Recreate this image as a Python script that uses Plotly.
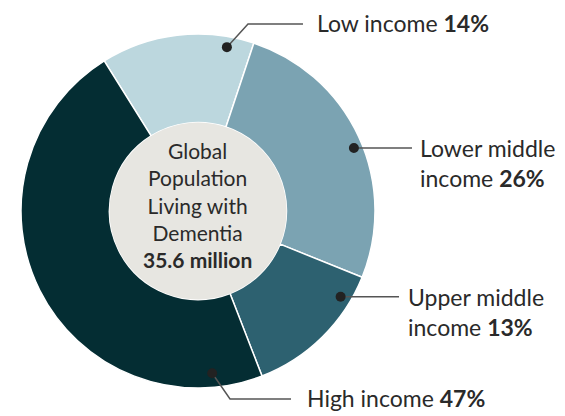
import math
import plotly.graph_objects as go

# Data
groups = ["Low income", "Lower middle income", "Upper middle income", "High income"]
shares = [14, 26, 13, 47]
colors = ["#bcd7de", "#7ba3b2", "#2d6170", "#042d33"]
center_lines = ["Global", "Population", "Living with", "Dementia", "<b>35.6 million</b>"]
label_lines = [
    ["Low income <b>14%</b>"],
    ["Lower middle", "income <b>26%</b>"],
    ["Upper middle", "income <b>13%</b>"],
    ["High income <b>47%</b>"],
]

# page body has an 8px margin, so the figure is a bit smaller than the window
OFF = 8
W, H = 565 - OFF, 416 - OFF
CX, CY, R = 198, 211, 177   # pie centre / radius in window pixels


def px(x, y):
    return (x - OFF) / W, 1 - (y - OFF) / H


def on_pie(angle, frac):
    a = math.radians(angle)
    return CX + R * frac * math.sin(a), CY - R * frac * math.cos(a)


def dom(r):
    x0, y1 = px(CX - r, CY - r)
    x1, y0 = px(CX + r, CY + r)
    return dict(x=[x0, x1], y=[y0, y1])


fig = go.Figure()

fig.add_trace(go.Pie(
    labels=groups, values=shares, sort=False, direction="clockwise",
    rotation=-32, hole=0.5,
    marker=dict(colors=colors, line=dict(color="white", width=1.5)),
    textinfo="none", hoverinfo="label+percent", showlegend=False,
    domain=dom(R),
))

# light disc in the hole
fig.add_trace(go.Pie(
    labels=["total"], values=[1], sort=False,
    marker=dict(colors=["#e7e6e1"], line=dict(width=0)),
    textinfo="none", hoverinfo="skip", showlegend=False,
    domain=dom(R * 0.5),
))

font = "Lato"
txt = "#2a2a2a"

x, y = px(CX - 1, 205)
fig.add_annotation(x=x, y=y, xref="paper", yref="paper", showarrow=False,
                   text="<br>".join(center_lines), align="center",
                   font=dict(family=font, size=21, color=txt),
                   xanchor="center", yanchor="middle")

# leader lines: dot (angle, radius frac), elbow, line end x, label left x
leaders = [
    (10, 0.94, (248, 24), 303, 315),
    (68, 0.95, None, 412, 418),
    (121, 0.94, None, 399, 406),
    (175, 0.92, (230, 399), 291, 305),
]

shapes = []
for (ang, frac, elbow, ex, lx), lines in zip(leaders, label_lines):
    dx, dy = on_pie(ang, frac)
    ey = elbow[1] if elbow else dy
    pts = [(dx, dy)] + ([elbow] if elbow else []) + [(ex, ey)]
    path = "M " + " L ".join(f"{px(x, y)[0]:.4f},{px(x, y)[1]:.4f}" for x, y in pts)
    shapes.append(dict(type="path", path=path, xref="paper", yref="paper",
                       line=dict(color="#555555", width=1.5)))
    x0, y1 = px(dx - 5, dy - 5)
    x1, y0 = px(dx + 5, dy + 5)
    shapes.append(dict(type="circle", xref="paper", yref="paper", x0=x0, y0=y0, x1=x1, y1=y1,
                       fillcolor="#222222", line=dict(width=0)))
    ax, ay = px(lx, ey - 1)
    fig.add_annotation(x=ax, y=ay, xref="paper", yref="paper", showarrow=False,
                       text="<br>".join(lines), xanchor="left", yanchor="top" if len(lines) > 1 else "middle",
                       yshift=15 if len(lines) > 1 else 0, align="left",
                       font=dict(family=font, size=23, color=txt))

fig.update_layout(
    width=W, height=H, margin=dict(l=0, r=0, t=0, b=0),
    paper_bgcolor="white", plot_bgcolor="white", shapes=shapes,
)

fig.write_html("out.html")
